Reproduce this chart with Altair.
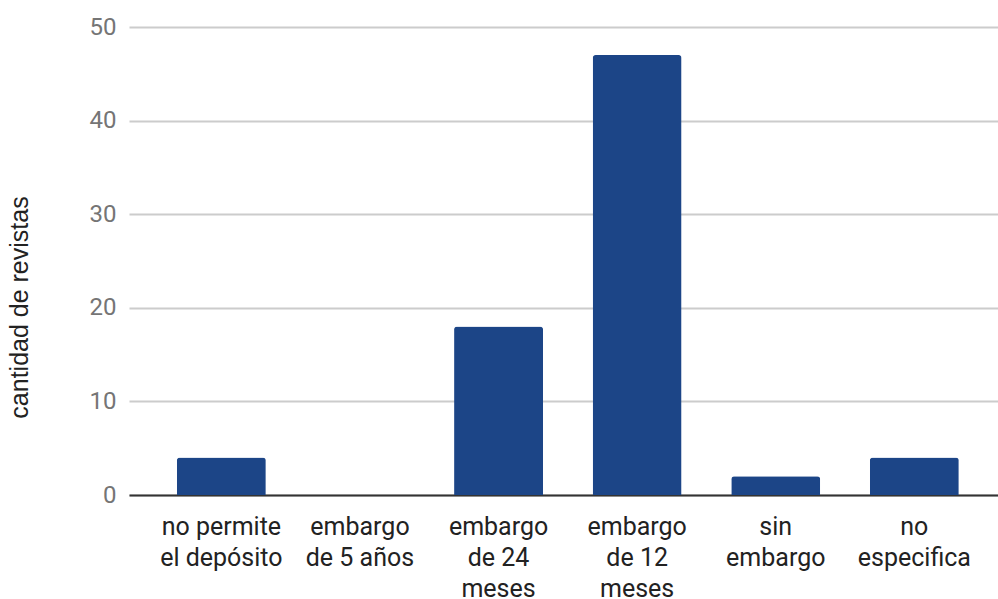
import altair as alt
import pandas as pd

categories = [
    "no permite|el depósito",
    "embargo|de 5 años",
    "embargo|de 24|meses",
    "embargo|de 12|meses",
    "sin|embargo",
    "no|especifica",
]
values = [4, 0, 18, 47, 2, 4]

df = pd.DataFrame({"cat": categories, "n": values})

chart = (
    alt.Chart(df)
    .mark_bar(color="#1c4587", cornerRadiusTopLeft=3, cornerRadiusTopRight=3)
    .encode(
        x=alt.X(
            "cat:N",
            sort=categories,
            title=None,
            scale=alt.Scale(paddingInner=0.358, paddingOuter=0.314, align=0.55),
            axis=alt.Axis(
                labelExpr="split(datum.value, '|')",
                labelAngle=0,
                labelFont="Roboto",
                labelFontSize=25,
                labelColor="#222222",
                labelLineHeight=31,
                labelPadding=19,
                ticks=False,
                domainColor="#333333",
                domainWidth=2,
                grid=False,
            ),
        ),
        y=alt.Y(
            "n:Q",
            scale=alt.Scale(domain=[0, 50]),
            axis=alt.Axis(
                values=[0, 10, 20, 30, 40, 50],
                title="cantidad de revistas",
                titleFont="Liberation Sans",
                titleFontSize=25,
                titleFontWeight="normal",
                titleColor="#222222",
                titleX=-110,
                titleY=280,
                titleAngle=270,
                titleBaseline="middle",
                titleAlign="center",
                labelFont="Roboto",
                labelFontSize=24,
                labelColor="#757575",
                labelPadding=13,
                ticks=False,
                domain=False,
                gridColor="#cccccc",
                gridWidth=2,
            ),
        ),
    )
    .properties(
        width=869,
        height=468,
        autosize=alt.AutoSizeParams(type="none"),
        padding={"left": 129, "top": 27, "right": 0, "bottom": 104},
    )
    .configure_view(stroke=None)
)

chart.save("out.html", embed_options={"renderer": "svg", "actions": False})
